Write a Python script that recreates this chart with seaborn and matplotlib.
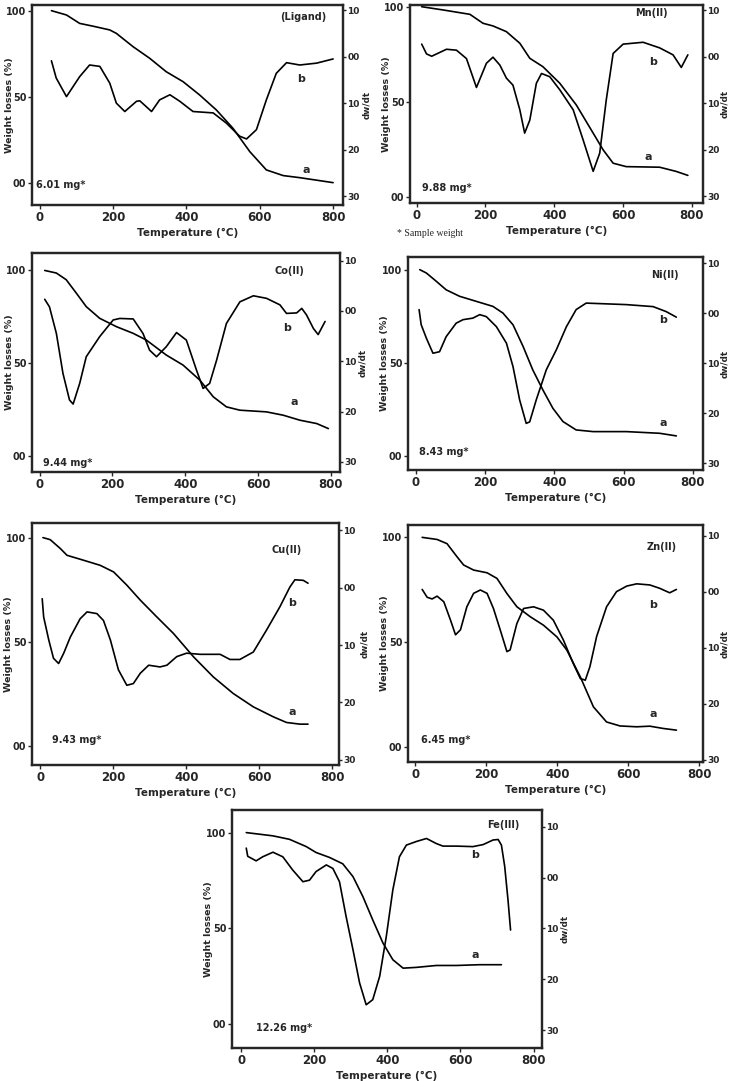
import numpy as np
import pandas as pd
import seaborn as sns
import matplotlib.pyplot as plt

sns.set_style("ticks")
plt.rcParams['font.family'] = ['Liberation Sans Narrow', 'DejaVu Sans']

# ---- data (T in deg C) ----
# curve a = TG (weight %), curve b = DTG (dw/dt, right axis)
lig_Ta = [32, 73, 109, 145, 191, 209, 255, 300, 345, 391, 436, 482, 527, 573, 618, 664, 709, 800]
lig_Wa = [100, 97.5, 92.6, 91, 88.8, 86.8, 79, 72.3, 64.5, 58.7, 51, 42.2, 31.6, 18, 7.4, 4.1, 2.9, 0]
lig_Tb = [32, 45, 73, 109, 136, 164, 191, 209, 232, 264, 273, 305, 327, 355, 382, 418, 473, 509, 545, 564, 591, 618, 645, 673, 709, 755, 800]
lig_Db = [0.9, 4.6, 8.6, 4.3, 1.8, 2.1, 5.7, 10, 11.8, 9.6, 9.5, 11.8, 9.3, 8.2, 9.6, 11.8, 12.1, 14.3, 17.1, 17.7, 15.7, 9.3, 3.6, 1.3, 1.8, 1.4, 0.5]

mn_Ta = [15, 77, 155, 193, 222, 261, 300, 329, 367, 416, 464, 513, 542, 571, 609, 706, 754, 788]
mn_Wa = [100, 98.3, 96, 91.3, 89.9, 86.9, 80.8, 72.9, 68.5, 59.8, 48.4, 33.6, 24.8, 17.8, 16, 15.7, 13.5, 11.4]
mn_Tb = [15, 29, 44, 87, 116, 145, 174, 203, 222, 242, 261, 280, 300, 314, 329, 348, 363, 387, 416, 455, 484, 513, 532, 551, 571, 600, 658, 706, 745, 769, 788]
mn_Db = [-2.7, -0.6, -0.1, -1.6, -1.4, 0.4, 6.6, 1.4, 0.1, 1.8, 4.6, 6.1, 11.4, 16.4, 13.6, 5.7, 3.6, 4.3, 7.1, 11.4, 17.9, 24.6, 20.7, 9.3, -0.7, -2.7, -3.1, -1.9, -0.4, 2.3, -0.4]

co_Ta = [14, 46, 73, 101, 128, 165, 211, 257, 293, 348, 394, 440, 477, 513, 550, 623, 669, 715, 761, 793]
co_Wa = [100, 98.6, 95, 87.7, 80.5, 74.2, 69.7, 66.1, 62.5, 54.4, 49, 40.9, 31.9, 26.5, 24.7, 23.8, 22, 19.3, 17.5, 14.8]
co_Tb = [14, 27, 46, 64, 82, 92, 110, 128, 165, 202, 220, 257, 284, 302, 321, 348, 376, 403, 431, 449, 467, 486, 513, 550, 587, 623, 660, 678, 706, 720, 733, 752, 765, 784]
co_Db = [-2.3, -0.8, 4.5, 12.4, 17.7, 18.5, 14.4, 9.1, 5.1, 1.8, 1.5, 1.6, 4.5, 7.8, 9.1, 7.1, 4.3, 5.8, 11.8, 15.4, 14.4, 9.8, 2.5, -1.8, -3, -2.5, -1.2, 0.5, 0.4, -0.5, 0.8, 3.5, 4.7, 2.1]

ni_Ta = [12, 31, 60, 88, 127, 175, 223, 252, 281, 310, 338, 367, 396, 425, 463, 512, 608, 704, 752]
ni_Wa = [100, 98.2, 93.7, 89.2, 85.7, 83, 80.3, 76.7, 70.4, 58.8, 46.2, 35.5, 25.6, 18.5, 14, 13.1, 13.1, 12.2, 10.8]
ni_Tb = [10, 16, 31, 50, 69, 88, 117, 137, 165, 185, 204, 233, 262, 281, 300, 319, 329, 348, 377, 406, 435, 463, 492, 531, 608, 685, 723, 752]
ni_Db = [-0.7, 2.3, 5, 8, 7.7, 4.7, 2, 1.3, 1, 0.3, 0.7, 2.7, 6, 10.7, 17.3, 22, 21.7, 17.3, 11.3, 7.3, 2.7, -0.7, -2, -1.9, -1.7, -1.3, -0.3, 0.8]

cu_Ta = [7, 27, 55, 73, 119, 164, 201, 237, 274, 319, 365, 420, 474, 529, 584, 639, 675, 712, 734]
cu_Wa = [100, 99, 94.7, 91.5, 89.1, 86.7, 83.5, 77.2, 70, 62, 54, 42.8, 33.2, 25.2, 18.8, 14, 11.3, 10.5, 10.5]
cu_Tb = [5, 9, 23, 36, 50, 64, 82, 109, 128, 155, 173, 192, 214, 237, 255, 274, 297, 328, 347, 374, 401, 438, 493, 520, 547, 584, 620, 657, 684, 698, 721, 734]
cu_Db = [1.9, 5.1, 9.1, 12.3, 13.2, 11.4, 8.6, 5.4, 4.2, 4.5, 5.7, 9.1, 14.3, 17, 16.7, 14.9, 13.5, 13.8, 13.5, 12, 11.4, 11.6, 11.6, 12.5, 12.5, 11.2, 7.4, 3.3, -0.1, -1.4, -1.3, -0.8]

zn_Ta = [19, 61, 89, 117, 136, 164, 202, 230, 258, 286, 324, 361, 399, 427, 465, 502, 539, 577, 624, 661, 699, 736]
zn_Wa = [100, 99, 97, 90.8, 86.8, 84.4, 83.1, 80.4, 73.2, 66.9, 62.1, 58.1, 52.5, 46.2, 33.4, 19.1, 11.9, 10, 9.6, 9.9, 8.8, 8]
zn_Tb = [19, 33, 47, 61, 80, 99, 113, 127, 145, 164, 183, 202, 220, 239, 258, 267, 286, 305, 333, 361, 389, 417, 445, 465, 479, 492, 511, 539, 567, 596, 624, 661, 689, 717, 736]
zn_Db = [-0.4, 1, 1.3, 0.8, 1.8, 5.1, 7.7, 6.8, 2.7, 0.3, -0.3, 0.3, 3, 6.8, 10.7, 10.4, 5.7, 3, 2.7, 3.3, 5.1, 8.6, 12.8, 15.5, 15.8, 13.4, 8, 2.7, 0, -1, -1.4, -1.2, -0.6, 0.2, -0.4]

fe_Ta = [14, 87, 132, 178, 205, 242, 278, 306, 333, 360, 388, 415, 443, 479, 534, 589, 652, 712]
fe_Wa = [100, 98.3, 96.5, 92.7, 89.6, 87, 83.7, 77, 66.6, 54.4, 42.3, 33.6, 29.2, 29.6, 30.6, 30.6, 31, 31]
fe_Tb = [14, 18, 41, 59, 87, 114, 141, 169, 187, 205, 233, 251, 269, 287, 306, 324, 342, 360, 379, 397, 415, 433, 452, 479, 507, 534, 552, 589, 634, 662, 689, 703, 712, 721, 730, 737]
fe_Db = [-5.8, -4.2, -3.3, -4.1, -5, -4.1, -1.5, 0.8, 0.5, -1.2, -2.5, -1.8, 0.8, 7.6, 14.2, 20.7, 25, 24, 19.4, 11.6, 2.4, -4.1, -6.4, -7.1, -7.7, -6.7, -6.2, -6.2, -6.1, -6.5, -7.4, -7.5, -6.4, -2.2, 4.4, 10.3]

names = ["(Ligand)", "Mn(II)", "Co(II)", "Ni(II)", "Cu(II)", "Zn(II)", "Fe(III)"]
masses = ["6.01 mg*", "9.88 mg*", "9.44 mg*", "8.43 mg*", "9.43 mg*", "6.45 mg*", "12.26 mg*"]
curves = [
    (lig_Ta, lig_Wa, lig_Tb, lig_Db),
    (mn_Ta, mn_Wa, mn_Tb, mn_Db),
    (co_Ta, co_Wa, co_Tb, co_Db),
    (ni_Ta, ni_Wa, ni_Tb, ni_Db),
    (cu_Ta, cu_Wa, cu_Tb, cu_Db),
    (zn_Ta, zn_Wa, zn_Tb, zn_Db),
    (fe_Ta, fe_Wa, fe_Tb, fe_Db),
]
w_ticks = [0, 50, 100]
w_ticklabels = ["00", "50", "100"]
d_ticks = [-10, 0, 10, 20, 30]
d_ticklabels = ["10", "00", "10", "20", "30"]
t_ticks = [0, 200, 400, 600, 800]

# ---- layout (pixel boxes: left, right, top, bottom) and axis limits ----
W, H = 731, 1081
boxes = [(32, 343, 5, 205), (410, 703, 5, 203), (32, 340, 253, 472), (408, 703, 257, 470),
         (32, 339, 523, 765), (408, 703, 525, 762), (232, 542, 810, 1048)]
xlims = [(-21, 827), (-19, 832), (-21, 825), (-22, 829), (-23, 819), (-21, 811), (-25, 823)]
wlims = [(-13, 103.3), (-3.1, 100.9), (-8.6, 109.4), (-7.5, 106.8), (-9.1, 107), (-7.2, 105.9), (-12.5, 111.8)]
dlims = [(31.9, -11.1), (31.4, -11.1), (32, -11.5), (31.3, -11.2), (30.9, -11.3), (30.4, -11.9), (33.5, -13.3)]
# x pixel of the two y-axis titles (right edge of left title, left edge of right title)
wlabel_x = [14.5, 391, 14, 389, 13, 389, 213]
dlabel_x = [362, 720.5, 358, 720.5, 360, 720.5, 560]
# label positions (T, W)
name_pos = [(718, 96.5), (682, 96.5), (687, 99.5), (718, 97.3), (675, 93.9), (694, 95.5), (716, 104)]
mass_pos = [(-9, -1.4), (17, 4.7), (9, -3.6), (11, 2.3), (32, 2.9), (17, 3.5), (41, -2.1)]
b_pos = [(714, 60.3), (687, 71), (680, 68.8), (713, 73.1), (691, 68.4), (669, 67.7), (641, 88.3)]
a_pos = [(727, 7.4), (672, 21.3), (698, 29.2), (713, 17.6), (691, 16.5), (671, 15.6), (641, 36.2)]

fig = plt.figure(figsize=(W / 100, H / 100), dpi=100)
bold = dict(fontweight="bold")

for i, (Ta, Wa, Tb, Db) in enumerate(curves):
    l, r, t, b = boxes[i]
    ax = fig.add_axes([l / W, 1 - b / H, (r - l) / W, (b - t) / H])
    ax2 = ax.twinx()

    sns.lineplot(x=Ta, y=Wa, ax=ax, color="black", linewidth=1.2)
    sns.lineplot(x=Tb, y=Db, ax=ax2, color="black", linewidth=1.2)

    ax.set_xlim(*xlims[i])
    ax.set_ylim(*wlims[i])
    ax2.set_ylim(*dlims[i])

    ax.set_xticks(t_ticks)
    ax.set_xticklabels([str(v) for v in t_ticks], fontsize=8.5, **bold)
    ax.set_yticks(w_ticks)
    ax.set_yticklabels(w_ticklabels, fontsize=7, **bold)
    ax2.set_yticks(d_ticks)
    ax2.set_yticklabels(d_ticklabels, fontsize=6.5, **bold)
    ax.tick_params(length=3, width=1, pad=1)
    ax2.tick_params(length=2.5, width=1, pad=0.5)

    for a_ in (ax, ax2):
        for s in a_.spines.values():
            s.set_visible(True)
            s.set_linewidth(1.6)

    ax.set_xlabel("Temperature (°C)", fontsize=7.5, labelpad=3, **bold)
    ax.set_ylabel("Weight losses (%)", fontsize=6.8, family="DejaVu Sans", **bold)
    ax2.set_ylabel("dw/dt", fontsize=6.3, family="DejaVu Sans", **bold)
    ax.yaxis.set_label_coords((wlabel_x[i] - l) / (r - l), 0.5)
    ax2.yaxis.set_label_coords((dlabel_x[i] - l) / (r - l), 0.5)

    ax.text(*name_pos[i], names[i], fontsize=7, ha="center", va="center", **bold)
    ax.text(*mass_pos[i], masses[i], fontsize=7, ha="left", va="center", **bold)
    ax.text(*b_pos[i], "b", fontsize=8, ha="center", va="center", **bold)
    ax.text(*a_pos[i], "a", fontsize=8, ha="center", va="center", **bold)

fig.text(397 / W, 1 - 233 / H, "* Sample weight", fontsize=7, family="Liberation Serif",
         ha="left", va="center")

fig.savefig("out.png", dpi=100)
